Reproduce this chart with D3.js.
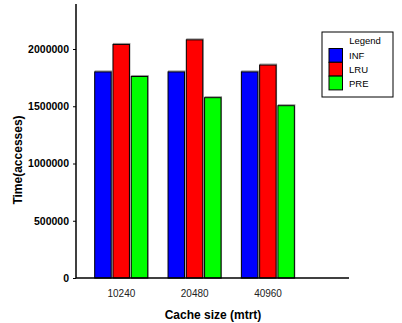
<!DOCTYPE html>
<html>
<head>
<meta charset="utf-8">
<script src="https://cdn.jsdelivr.net/npm/d3@7"></script>
<style>
	body { margin: 0; background: #fff; }
	svg { display: block; font-family: "Liberation Sans", Arial, sans-serif; }
</style>
</head>
<body>
<svg id="chart" width="402" height="323"></svg>
<script>
// chart values
const categories = ["10240", "20480", "40960"];
const series = ["INF", "LRU", "PRE"];
const colors = ["#0000ff", "#ff0000", "#00ff00"];
const valuesINF = [1800000, 1800000, 1800000];
const valuesLRU = [2040000, 2080000, 1860000];
const valuesPRE = [1760000, 1575000, 1505000];
const yTicks = [0, 500000, 1000000, 1500000, 2000000];

const allValues = [valuesINF, valuesLRU, valuesPRE];

const svg = d3.select("#chart");

// axes layout
const axisX = 76, axisY = 278, axisTop = 4, axisRight = 349;

const scaleY = d3.scaleLinear()
	.domain([0, 2400000])
	.range([axisY, axisY - 2400000 / 500000 * 57.25]);

const scaleX = d3.scaleBand()
	.domain(categories)
	.range([84.7, 304.7])
	.padding(0);

const scaleSeries = d3.scaleBand()
	.domain(series)
	.range([10, 63])
	.paddingInner(0.1);

// bars
const groups = svg.selectAll("g.group")
	.data(categories)
	.enter()
	.append("g")
	.attr("class", "group")
	.attr("transform", d => `translate(${scaleX(d)},0)`);

series.forEach((s, si) => {
	// soft grey shadow round each bar
	groups.append("rect")
		.attr("x", (d, ci) => scaleSeries(s) + 0.5)
		.attr("y", (d, ci) => scaleY(allValues[si][ci]) - 1)
		.attr("width", scaleSeries.bandwidth())
		.attr("height", (d, ci) => axisY - scaleY(allValues[si][ci]) + 1)
		.attr("fill", "none")
		.attr("stroke", "#999")
		.attr("stroke-width", 1);

	groups.append("rect")
		.attr("x", (d, ci) => scaleSeries(s))
		.attr("y", (d, ci) => scaleY(allValues[si][ci]))
		.attr("width", scaleSeries.bandwidth())
		.attr("height", (d, ci) => axisY - scaleY(allValues[si][ci]))
		.attr("fill", colors[si])
		.attr("stroke", "#000")
		.attr("stroke-width", 1);
});

// y axis
const yAxis = svg.append("g")
	.attr("transform", `translate(${axisX},0)`)
	.call(d3.axisLeft(scaleY).tickValues(yTicks).tickSize(3).tickSizeOuter(0).tickPadding(4).tickFormat(d3.format("d")));
yAxis.select(".domain").remove();
yAxis.selectAll("text")
	.attr("font-size", 10.5)
	.attr("font-weight", "bold")
	.attr("fill", "#000")
	.attr("font-family", "Liberation Sans, Arial, sans-serif");
yAxis.selectAll("line").attr("stroke", "#000");

svg.append("line")
	.attr("x1", axisX).attr("x2", axisX)
	.attr("y1", axisTop).attr("y2", axisY)
	.attr("stroke", "#000").attr("stroke-width", 1.5);

svg.append("line")
	.attr("x1", axisX).attr("x2", axisRight)
	.attr("y1", axisY).attr("y2", axisY)
	.attr("stroke", "#000").attr("stroke-width", 1.5);

// x tick labels
svg.selectAll("text.xlab")
	.data(categories)
	.enter()
	.append("text")
	.attr("class", "xlab")
	.attr("x", d => scaleX(d) + scaleX.bandwidth() / 2)
	.attr("y", 297)
	.attr("text-anchor", "middle")
	.attr("font-size", 10)
	.attr("fill", "#222")
	.text(d => d);

// axis titles
svg.append("text")
	.attr("x", 213)
	.attr("y", 319)
	.attr("text-anchor", "middle")
	.attr("font-size", 12)
	.attr("font-weight", "bold")
	.text("Cache size (mtrt)");

svg.append("text")
	.attr("transform", "translate(22,160) rotate(-90)")
	.attr("text-anchor", "middle")
	.attr("font-size", 12)
	.attr("font-weight", "bold")
	.text("Time(accesses)");

// legend
const legend = svg.append("g").attr("transform", "translate(322,32)");
legend.append("rect")
	.attr("x", 0).attr("y", 0)
	.attr("width", 71).attr("height", 65)
	.attr("fill", "#fff").attr("stroke", "#000").attr("stroke-width", 1);
legend.append("text")
	.attr("x", 43).attr("y", 12)
	.attr("text-anchor", "middle")
	.attr("font-size", 9.5)
	.text("Legend");

series.forEach((s, i) => {
	legend.append("rect")
		.attr("x", 7).attr("y", 16.5 + i * 13.8)
		.attr("width", 13.5).attr("height", 13.8)
		.attr("fill", colors[i]).attr("stroke", "#000").attr("stroke-width", 1);
	legend.append("text")
		.attr("x", 27).attr("y", 27 + i * 13.8)
		.attr("font-size", 9.5)
		.text(s);
});
</script>
</body>
</html>
